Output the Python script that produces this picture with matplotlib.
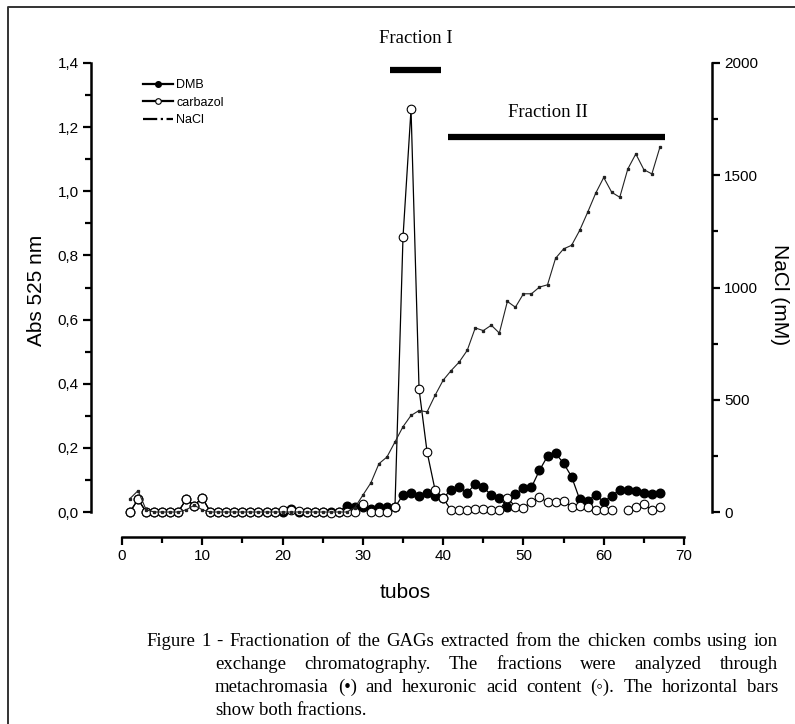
import matplotlib
matplotlib.use("Agg")
import matplotlib.pyplot as plt
import numpy as np
from matplotlib.ticker import MultipleLocator, FuncFormatter
from matplotlib.lines import Line2D

# tubes 1..67
tubes = np.arange(1, 68)

dmb = [0.0, 0.04, 0.0, 0.0, 0.0, 0.0, 0.0, 0.04, 0.02, 0.045,
       0.0, 0.0, 0.0, 0.0, 0.0, 0.0, 0.0, 0.0, 0.0, 0.0,
       0.008, 0.0, 0.0, 0.0, 0.0, 0.0, 0.0, 0.02, 0.015, 0.015,
       0.01, 0.015, 0.015, 0.015, 0.053, 0.06, 0.05, 0.058, 0.05, 0.045,
       0.068, 0.077, 0.06, 0.087, 0.077, 0.053, 0.043, 0.017, 0.057, 0.074,
       0.077, 0.13, 0.174, 0.183, 0.152, 0.11, 0.04, 0.035, 0.053, 0.032,
       0.05, 0.07, 0.068, 0.066, 0.058, 0.057, 0.06]

carbazol = [0.0, 0.04, 0.0, 0.0, 0.0, 0.0, 0.0, 0.04, 0.02, 0.045,
            0.0, 0.0, 0.0, 0.0, 0.0, 0.0, 0.0, 0.0, 0.0, 0.006,
            0.006, 0.004, 0.0, 0.0, 0.0, -0.002, 0.0, 0.0, 0.0, 0.025,
            0.0, 0.0, 0.0, 0.016, 0.857, 1.256, 0.383, 0.187, 0.068, 0.043,
            0.005, 0.005, 0.005, 0.01, 0.008, 0.006, 0.005, 0.043, 0.017, 0.013,
            0.032, 0.047, 0.03, 0.032, 0.035, 0.017, 0.02, 0.017, 0.005, 0.005,
            0.005, np.nan, 0.005, 0.017, 0.025, 0.005, 0.017]

nacl = [60, 95, 10, 0, 0, 0, 0, 10, 30, 10,
        0, 0, 0, 0, 0, 0, 0, 0, 0, 0,
        0, 0, 0, 0, 0, 0, 0, 0, 20, 75,
        130, 215, 245, 312, 380, 430, 452, 446, 520, 587,
        630, 668, 720, 820, 808, 832, 797, 938, 912, 972,
        972, 1002, 1012, 1130, 1172, 1188, 1254, 1335, 1420, 1490,
        1424, 1402, 1528, 1595, 1525, 1506, 1625]

frac_labels = ["Fraction I", "Fraction II"]
frac_start = [33.4, 40.6]
frac_end = [39.7, 67.6]
frac_level = [1.378, 1.17]

caption = [
    "Figure 1 - Fractionation of the GAGs extracted from the chicken combs using ion",
    "exchange chromatography. The fractions were analyzed through",
    "metachromasia (\u2022) and hexuronic acid content (\u25e6). The horizontal bars",
    "show both fractions.",
]

W, H = 795, 724
fig = plt.figure(figsize=(W / 100, H / 100), dpi=100)
plt.rcParams["font.family"] = ["Liberation Sans", "DejaVu Sans"]


def fx(px):
    return px / W


def fy(py):
    return 1 - py / H


ax = fig.add_axes([fx(122), fy(512), fx(684) - fx(122), fy(63) - fy(512)])
ax2 = ax.twinx()

ax.plot(tubes, dmb, "-o", color="black", lw=0.9, ms=6.2, mfc="black",
        mec="black", clip_on=False, zorder=3, label="DMB")
ax.plot(tubes, carbazol, "-o", color="black", lw=0.9, ms=6.2, mfc="white",
        mec="black", mew=0.8, clip_on=False, zorder=4, label="carbazol")
ax2.plot(tubes, nacl, "-", color="#222222", lw=0.8, marker="s", ms=1.4,
         clip_on=False, zorder=2)

ax.set_xlim(0, 70)
ax.set_ylim(0, 1.4)
# right scale sits a few pixels lower than the left one
ax2.set_ylim(17, 2000)

for s in ["top", "right"]:
    ax.spines[s].set_visible(False)
for s in ["top", "left", "bottom"]:
    ax2.spines[s].set_visible(False)
ax.spines["left"].set_position(("outward", 22.3))
ax.spines["bottom"].set_position(("outward", 18))
ax2.spines["right"].set_position(("outward", 20))
ax2.spines["right"].set_bounds(0, 2000)
for sp in [ax.spines["left"], ax.spines["bottom"], ax2.spines["right"]]:
    sp.set_linewidth(1.8)
ax.patch.set_visible(False)
ax2.patch.set_visible(False)

ax.xaxis.set_major_locator(MultipleLocator(10))
ax.xaxis.set_minor_locator(MultipleLocator(5))
ax.yaxis.set_major_locator(MultipleLocator(0.2))
ax.yaxis.set_minor_locator(MultipleLocator(0.1))
ax.yaxis.set_major_formatter(FuncFormatter(lambda v, p: f"{v:.1f}".replace(".", ",")))
ax2.set_yticks([0, 500, 1000, 1500, 2000])
ax2.set_yticks([250, 750, 1250, 1750], minor=True)

for a in [ax, ax2]:
    a.tick_params(which="major", length=6, width=1.6, labelsize=11, pad=3)
    a.tick_params(which="minor", length=4, width=1.6)

# fraction bars
ax.hlines(frac_level, frac_start, frac_end, color="black", lw=4.5, clip_on=False)
ax.text((frac_start[0] + frac_end[0]) / 2, 1.475, frac_labels[0],
        ha="center", va="center", fontsize=13.5, family="Liberation Serif")
ax.text(53.0, 1.245, frac_labels[1], ha="center", va="center",
        fontsize=13.5, family="Liberation Serif")

# legend
h_dmb, h_carb = ax.get_lines()[:2]
h_nacl = Line2D([], [], color="black", lw=1.2, ls="-.")
leg = ax2.legend([h_dmb, h_carb, h_nacl], ["DMB", "carbazol", "NaCl"],
                 loc="upper left", bbox_to_anchor=(fx(143), fy(79)),
                 bbox_transform=fig.transFigure, frameon=False,
                 fontsize=9, markerscale=0.65, handlelength=2.4,
                 handletextpad=0.25, labelspacing=0.45, borderpad=0,
                 borderaxespad=0)
for ln in leg.get_lines():
    ln.set_linewidth(1.6)

# axis labels
fig.text(fx(37), fy(290), "Abs 525 nm", rotation=90, ha="center",
         va="center", fontsize=15)
fig.text(fx(779), fy(295), "NaCl (mM)", rotation=270, ha="center",
         va="center", fontsize=15)
fig.text(fx(405), fy(593), "tubos", ha="center", va="center", fontsize=15)

# frame (left and top)
fig.add_artist(Line2D([fx(8), fx(8), fx(795)], [fy(724), fy(7), fy(7)],
                      transform=fig.transFigure, color="#333333", lw=1.4))

# justified caption
renderer = fig.canvas.get_renderer()
cap_x0 = [146, 215, 215, 215]
cap_x1 = 778
cap_base = [646, 669, 692, 715]
for i, line in enumerate(caption):
    words = line.split(" ")
    texts = []
    widths = []
    for w in words:
        t = fig.text(0, 0, w, fontsize=13.5,
                     family=["Liberation Serif", "DejaVu Sans"], va="baseline")
        texts.append(t)
        widths.append(t.get_window_extent(renderer).width)
    if i < len(caption) - 1:
        gap = (cap_x1 - cap_x0[i] - sum(widths)) / (len(words) - 1)
    else:
        gap = 4.5
    x = cap_x0[i]
    for t, wd in zip(texts, widths):
        t.set_position((fx(x), fy(cap_base[i])))
        x += wd + gap

fig.savefig("out.png", dpi=100)
